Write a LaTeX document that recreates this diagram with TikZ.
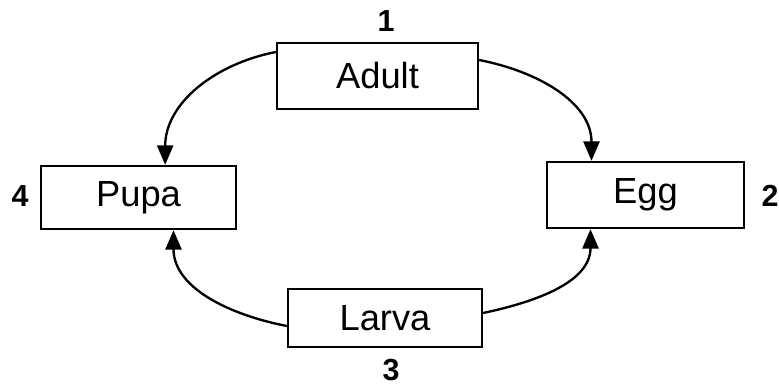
\documentclass[tikz,border=0pt]{standalone}
\usepackage{fontspec}
\setmainfont{Liberation Sans}
\usetikzlibrary{arrows.meta}
\begin{document}
\begin{tikzpicture}[x=0.03cm,y=0.03cm,
  stage/.style={draw, line width=2pt, rectangle, inner sep=0pt, font=\fontsize{31}{36}\selectfont},
  num/.style={inner sep=0pt, font=\bfseries\fontsize{26}{30}\selectfont},
  flow/.style={line width=2pt, -{Triangle[length=0.58cm,width=0.48cm]}}
]
\useasboundingbox (0,0) rectangle (779,-388);
\node[stage, minimum width=6.03cm, minimum height=1.98cm] (adult) at (377.5,-76) {Adult};
\node[stage, minimum width=5.91cm, minimum height=1.98cm] (egg) at (645.5,-195) {Egg};
\node[stage, minimum width=5.85cm, minimum height=1.89cm] (pupa) at (138.5,-197.5) {Pupa};
\node[stage, minimum width=5.82cm, minimum height=1.74cm] (larva) at (385,-318) {Larva};
\node[num] (n1) at (386,-21) {1};
\node[num] (n2) at (770,-196) {2};
\node[num] (n3) at (391,-370) {3};
\node[num] (n4) at (20,-196) {4};
\draw[flow] ([yshift=0.72cm]adult.west) to[out=191,in=90] ([xshift=0.8cm]pupa.north);
\draw[flow] ([yshift=0.48cm]adult.east) to[out=-11,in=90] ([xshift=-1.62cm]egg.north);
\draw[flow] ([yshift=-0.24cm]larva.west) to[out=169,in=-90] ([xshift=1.05cm]pupa.south);
\draw[flow] ([yshift=0.15cm]larva.east) to[out=12,in=-90] ([xshift=-1.65cm]egg.south);
\end{tikzpicture}
\end{document}
